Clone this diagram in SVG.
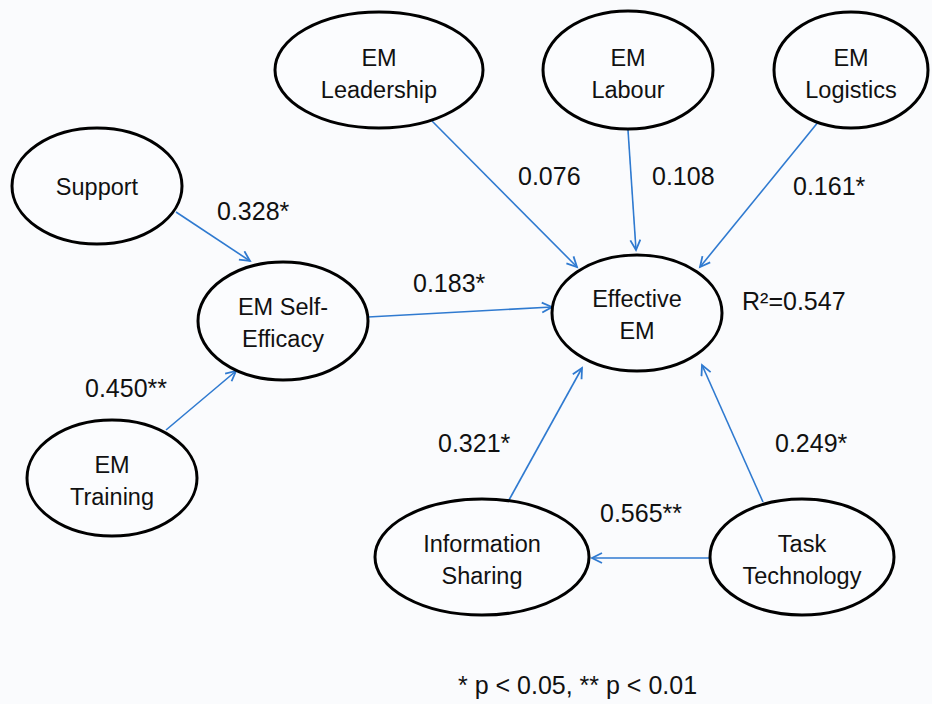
<svg xmlns="http://www.w3.org/2000/svg" width="932" height="704" viewBox="0 0 932 704">
<defs>
<style>
.node ellipse{fill:#fbfcfe;stroke:#000;stroke-width:3}
.node text{font-family:"Liberation Sans",Arial,sans-serif;font-size:23.5px;fill:#111;text-anchor:middle}
.lbl{font-family:"Liberation Sans",Arial,sans-serif;font-size:25px;fill:#111}
.edge{stroke:#2f7ad0;stroke-width:1.6;fill:none;marker-end:url(#arr)}
</style>
<marker id="arr" markerUnits="userSpaceOnUse" markerWidth="14" markerHeight="14" refX="11" refY="6" orient="auto">
<path d="M1,1 L11,6 L1,11" fill="none" stroke="#2f7ad0" stroke-width="1.8"/>
</marker>
</defs>
<rect width="932" height="704" fill="#fafbfd"/>
<g id="connectors">
<line class="edge" x1="176" y1="212" x2="250" y2="261"/>
<line class="edge" x1="166" y1="430" x2="236" y2="371"/>
<line class="edge" x1="368" y1="317" x2="552" y2="307"/>
<line class="edge" x1="432" y1="121" x2="577" y2="267"/>
<line class="edge" x1="628" y1="130" x2="636" y2="250"/>
<line class="edge" x1="819" y1="121" x2="700" y2="267"/>
<line class="edge" x1="509" y1="500" x2="582" y2="368"/>
<line class="edge" x1="763" y1="502" x2="702" y2="365"/>
<line class="edge" x1="710" y1="558" x2="592" y2="558"/>
</g>
<g id="leadership" class="node"><ellipse cx="379" cy="70" rx="104" ry="58"/><text x="379" y="66">EM</text><text x="379" y="98">Leadership</text></g>
<g id="labour" class="node"><ellipse cx="628" cy="70" rx="85" ry="59"/><text x="628" y="66">EM</text><text x="628" y="98">Labour</text></g>
<g id="logistics" class="node"><ellipse cx="851" cy="70" rx="77" ry="58"/><text x="851" y="66">EM</text><text x="851" y="98">Logistics</text></g>
<g id="support" class="node"><ellipse cx="97" cy="186" rx="85" ry="58"/><text x="97" y="195">Support</text></g>
<g id="selfefficacy" class="node"><ellipse cx="283" cy="321" rx="85" ry="59"/><text x="283" y="315">EM Self-</text><text x="283" y="347">Efficacy</text></g>
<g id="training" class="node"><ellipse cx="112" cy="478" rx="85" ry="58"/><text x="112" y="473">EM</text><text x="112" y="505">Training</text></g>
<g id="effective" class="node"><ellipse cx="637" cy="313" rx="85" ry="58"/><text x="637" y="307">Effective</text><text x="637" y="339">EM</text></g>
<g id="infosharing" class="node"><ellipse cx="482" cy="557" rx="107" ry="58"/><text x="482" y="552">Information</text><text x="482" y="584">Sharing</text></g>
<g id="tasktech" class="node"><ellipse cx="802" cy="557" rx="92" ry="58"/><text x="802" y="552">Task</text><text x="802" y="584">Technology</text></g>
<g id="labels">
<text class="lbl" x="217" y="220">0.328*</text>
<text class="lbl" x="518" y="185">0.076</text>
<text class="lbl" x="652" y="185">0.108</text>
<text class="lbl" x="793" y="195">0.161*</text>
<text class="lbl" x="413" y="292">0.183*</text>
<text class="lbl" x="742" y="310">R²=0.547</text>
<text class="lbl" x="85" y="397">0.450**</text>
<text class="lbl" x="438" y="452">0.321*</text>
<text class="lbl" x="775" y="452">0.249*</text>
<text class="lbl" x="600" y="522">0.565**</text>
<text class="lbl" x="458" y="694">* p &lt; 0.05, ** p &lt; 0.01</text>
</g>
</svg>
